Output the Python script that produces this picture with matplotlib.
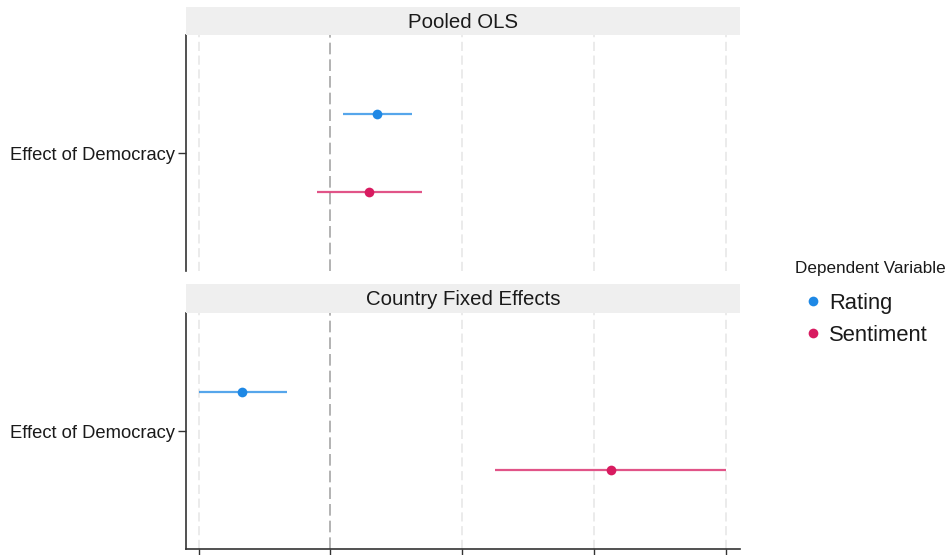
import matplotlib
matplotlib.use("Agg")
import matplotlib.pyplot as plt
from matplotlib.lines import Line2D

plt.rcParams['font.family'] = ['Liberation Sans', 'DejaVu Sans']

models = ['Pooled OLS', 'Country Fixed Effects']
term = 'Effect of Democracy'
series = ['Rating', 'Sentiment']
colors = {'Rating': '#1E88E5', 'Sentiment': '#D81B60'}
rating_est = [0.353, -0.672]
rating_low = [0.095, -1.0]
rating_high = [0.619, -0.330]
sent_est = [0.292, 2.129]
sent_low = [-0.102, 1.249]
sent_high = [0.695, 3.0]
xticks = [-1, 0, 1, 2, 3]

data = {
    'Rating': (rating_est, rating_low, rating_high),
    'Sentiment': (sent_est, sent_low, sent_high),
}
dodge = {'Rating': 0.2, 'Sentiment': -0.2}

W, H = 951, 555
fig = plt.figure(figsize=(W / 100, H / 100), dpi=100)

left = 186 / W
width = 554 / W
panels = [
    dict(ax=(271, 236), strip=(35, 28)),
    dict(ax=(549, 236), strip=(313, 29)),
]

for i, (m, p) in enumerate(zip(models, panels)):
    ybot, h = p['ax']
    ax = fig.add_axes([left, (H - ybot) / H, width, h / H])
    sbot, sh = p['strip']
    sax = fig.add_axes([left, (H - sbot) / H, width, sh / H])
    sax.set_facecolor('#EFEFEF')
    for s in sax.spines.values():
        s.set_visible(False)
    sax.set_xticks([]); sax.set_yticks([])
    sax.text(0.5, 0.45, m, ha='center', va='center', fontsize=14.7,
             color='#1a1a1a', transform=sax.transAxes)

    ax.set_xlim(-1.095, 3.105)
    ax.set_ylim(0.4, 1.6)
    for xt in xticks:
        if xt == 0:
            continue
        ax.axvline(xt, color='#E6E6E6', lw=1.1, ls=(0, (6, 3)), zorder=0)
    ax.axvline(0, color='#A6A6A6', lw=1.2, ls=(0, (7, 3)), zorder=1)

    for s in series:
        est, lo, hi = data[s]
        y = 1 + dodge[s]
        ax.plot([lo[i], hi[i]], [y, y], color=colors[s], lw=1.6, alpha=0.75,
                solid_capstyle='butt', zorder=2)
        ax.plot([est[i]], [y], 'o', color=colors[s], ms=7, mec='none', zorder=3)

    ax.set_yticks([1])
    ax.set_yticklabels([term], fontsize=13.2, color='#1a1a1a')
    ax.tick_params(axis='y', length=6, width=1, color='#333333', pad=2)
    ax.spines['top'].set_visible(False)
    ax.spines['right'].set_visible(False)
    ax.spines['left'].set_color('#333333')
    ax.spines['left'].set_linewidth(1.2)
    ax.set_xticks(xticks)
    if i == 0:
        ax.spines['bottom'].set_visible(False)
        ax.tick_params(axis='x', length=0, labelbottom=False)
    else:
        ax.spines['bottom'].set_color('#333333')
        ax.spines['bottom'].set_linewidth(1.2)
        ax.tick_params(axis='x', length=6, width=1, color='#333333', labelbottom=False)

handles = [Line2D([], [], ls='none', marker='o', ms=7, mec='none', color=colors[s])
           for s in series]
fs = 15.8
leg = fig.legend(handles, series, title='Dependent Variable', loc='upper left',
                 bbox_to_anchor=(795 / W, 1 - 261 / H), frameon=False,
                 fontsize=fs, title_fontsize=12.3, handlelength=1.65,
                 handletextpad=-0.1, labelspacing=0.5, borderpad=0,
                 borderaxespad=0)
leg._legend_box.align = 'left'
leg._legend_box.sep = 0.45 * fs + 5.1
leg.get_title().set_color('#1a1a1a')
for t in leg.get_texts():
    t.set_color('#1a1a1a')

fig.savefig('out.png', dpi=100)
